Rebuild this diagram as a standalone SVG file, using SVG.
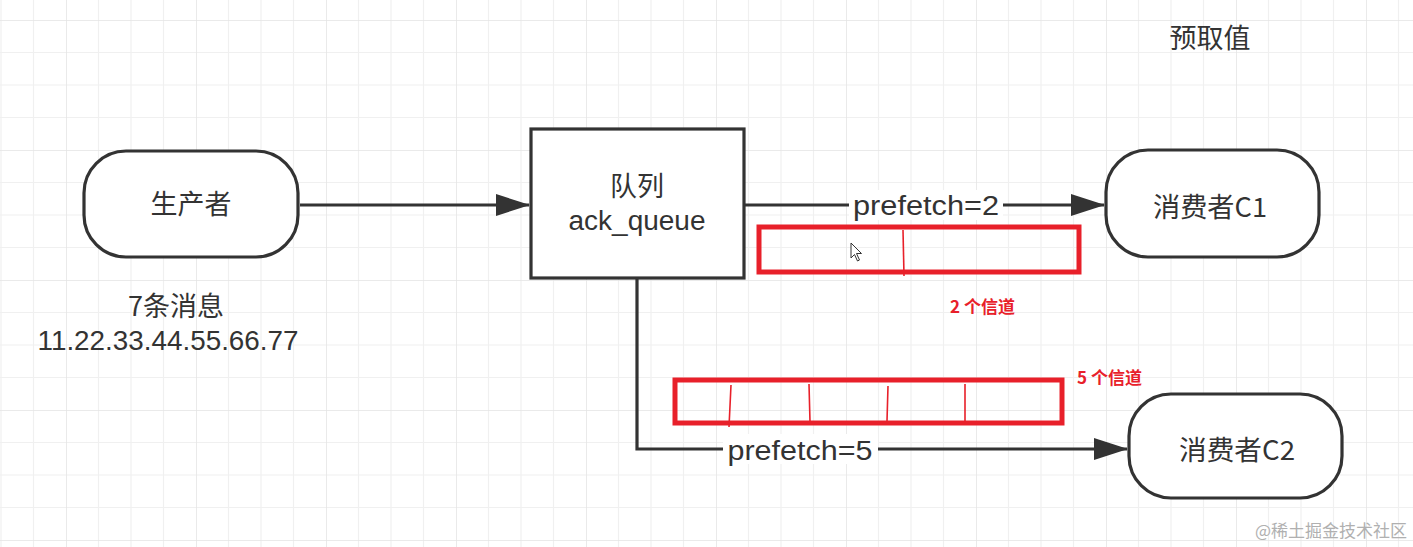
<svg xmlns="http://www.w3.org/2000/svg" width="1413" height="547" viewBox="0 0 1413 547">
<defs>
<pattern id="grid" x="66" y="20" width="130" height="130" patternUnits="userSpaceOnUse">
<path d="M32.5 0V130M65 0V130M97.5 0V130M0 32.5H130M0 65H130M0 97.5H130" stroke="#f0f0f0" stroke-width="1.2" fill="none"/>
<path d="M0 0V130M0 0H130" stroke="#e4e4e4" stroke-width="1.5" fill="none"/>
</pattern>
<marker id="arr" viewBox="0 0 34 22" refX="33" refY="11" markerWidth="34" markerHeight="22" markerUnits="userSpaceOnUse" orient="auto">
<path d="M0 0L34 11L0 22Z" fill="#333"/>
</marker>
<style>
.shape{fill:#fff;stroke:#333;stroke-width:3.2}
.t{font-family:"Noto Sans CJK SC","Noto Sans",sans-serif;fill:#333;font-size:27px;text-anchor:middle}
.l{font-family:"Liberation Sans","Noto Sans",sans-serif;fill:#333;font-size:27px;text-anchor:middle}
.edge{fill:none;stroke:#333;stroke-width:3.2}
.red{fill:none;stroke:#e8202a;stroke-width:5}
.rl{stroke:#e8202a;stroke-width:1.6;fill:none}
.rt{font-family:"Noto Sans CJK SC","Noto Sans",sans-serif;fill:#e8202a;font-size:17px;font-weight:bold}
.lab{fill:#fff}
</style>
</defs>
<rect width="1413" height="547" fill="#fff"/>
<rect width="1413" height="547" fill="url(#grid)"/>

<g id="connectors">
<path class="edge" d="M300 205H529" marker-end="url(#arr)"/>
<path class="edge" d="M744 205H1104" marker-end="url(#arr)"/>
<rect class="lab" x="849" y="190" width="154" height="30"/>
<text class="l" x="926" y="215" textLength="146" lengthAdjust="spacingAndGlyphs">prefetch=2</text>
<path class="edge" d="M637 279V449H1127" marker-end="url(#arr)"/>
<rect class="lab" x="723" y="434" width="155" height="30"/>
<text class="l" x="800" y="460" textLength="145" lengthAdjust="spacingAndGlyphs">prefetch=5</text>
</g>

<g id="producer">
<rect class="shape" x="84" y="151" width="214" height="106" rx="42"/>
<text class="t" x="191" y="214">生产者</text>
</g>

<g id="queue">
<rect class="shape" x="531" y="129" width="213" height="149"/>
<text class="t" x="637" y="196">队列</text>
<text class="l" x="637" y="230" textLength="137" lengthAdjust="spacingAndGlyphs">ack_queue</text>
</g>

<g id="consumer1">
<rect class="shape" x="1106" y="150" width="213" height="107" rx="42"/>
<text class="t" x="1210" y="217" textLength="114" lengthAdjust="spacingAndGlyphs">消费者C1</text>
</g>

<g id="consumer2">
<rect class="shape" x="1129" y="394" width="213" height="104" rx="42"/>
<text class="t" x="1237" y="460" textLength="116" lengthAdjust="spacingAndGlyphs">消费者C2</text>
</g>

<g id="messages">
<text class="t" x="176" y="316">7条消息</text>
<text class="l" x="168" y="350" textLength="261" lengthAdjust="spacingAndGlyphs">11.22.33.44.55.66.77</text>
</g>

<g id="title">
<text class="t" x="1210" y="48">预取值</text>
</g>

<g id="channels2">
<rect class="red" x="759" y="227" width="320" height="45"/>
<path class="rl" d="M903 230L904 276"/>
<text class="rt" x="950" y="313">2 个信道</text>
<path d="M851 243L851 258L854.5 254.5L857.5 261L859.5 260L856.5 253.5L861.5 253.5Z" fill="#fff" stroke="#333" stroke-width="1"/>
</g>

<g id="channels5">
<rect class="red" x="675" y="380" width="387" height="43"/>
<path class="rl" d="M731 385L729 427M809 384L810 422M888 386L887 421M965 384L965 422"/>
<text class="rt" x="1077" y="384">5 个信道</text>
</g>

<text x="1407" y="537" text-anchor="end" font-family="&quot;Noto Sans CJK SC&quot;,sans-serif" font-size="17" fill="#b0b0b0">@稀土掘金技术社区</text>
</svg>
